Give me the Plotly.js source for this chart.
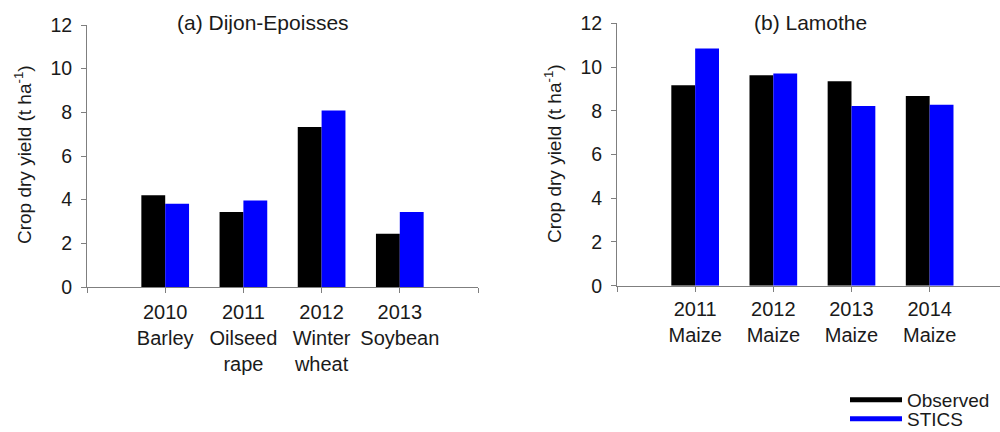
<!DOCTYPE html>
<html>
<head>
<meta charset="utf-8">
<script src="https://cdn.plot.ly/plotly-3.0.1.min.js"></script>
<style>html,body{margin:0;padding:0;background:#fff;}#chart{width:1000px;height:432px;}</style>
</head>
<body>
<div id="chart"></div>
<script>
// Panel (a) Dijon-Epoisses
const catsA = ["2010<br>Barley", "2011<br>Oilseed<br>rape", "2012<br>Winter<br>wheat", "2013<br>Soybean"];
const observedA = [4.2, 3.43, 7.33, 2.44];
const sticsA = [3.81, 3.96, 8.08, 3.43];

// Panel (b) Lamothe
const catsB = ["2011<br>Maize", "2012<br>Maize", "2013<br>Maize", "2014<br>Maize"];
const observedB = [9.17, 9.62, 9.35, 8.68];
const sticsB = [10.85, 9.7, 8.22, 8.28];

const seriesNames = ["Observed", "STICS"];
const seriesColors = ["#000000", "#0000ff"];

const titleA = "(a) Dijon-Epoisses";
const titleB = "(b) Lamothe";
const yTitle = "Crop dry yield (t ha<sup>-1</sup>)";

const FONT = "Liberation Sans, Arial, sans-serif";
const TXT = "#1a1a1a";
const AXC = "#7f7f7f";

const posA = catsA.map((c, i) => i + 1);
const posB = catsB.map((c, i) => i + 1);

const traces = [
  {type: "bar", x: posA, y: observedA, name: seriesNames[0], marker: {color: seriesColors[0]}, xaxis: "x", yaxis: "y", showlegend: false},
  {type: "bar", x: posA, y: sticsA, name: seriesNames[1], marker: {color: seriesColors[1]}, xaxis: "x", yaxis: "y", showlegend: false},
  {type: "bar", x: posB, y: observedB, name: seriesNames[0], marker: {color: seriesColors[0]}, xaxis: "x2", yaxis: "y2", showlegend: false},
  {type: "bar", x: posB, y: sticsB, name: seriesNames[1], marker: {color: seriesColors[1]}, xaxis: "x2", yaxis: "y2", showlegend: false},
  {type: "scatter", mode: "lines", x: [null], y: [null], name: seriesNames[0], line: {color: seriesColors[0], width: 5}, xaxis: "x2", yaxis: "y2", showlegend: true, legend: "legend"},
  {type: "scatter", mode: "lines", x: [null], y: [null], name: seriesNames[1], line: {color: seriesColors[1], width: 5}, xaxis: "x2", yaxis: "y2", showlegend: true, legend: "legend2"}
];

const xCommon = {
  range: [0, 5], tickmode: "array", tickvals: [1, 2, 3, 4],
  showline: true, linecolor: AXC, linewidth: 1, ticks: "outside", ticklen: 5, tickcolor: AXC,
  minor: {tickmode: "linear", tick0: 0, dtick: 1, ticks: "outside", ticklen: 5, tickcolor: AXC, showgrid: false},
  showgrid: false, zeroline: false, fixedrange: true, automargin: false,
  tickfont: {family: FONT, size: 20, color: TXT}
};
const yCommon = {
  range: [0, 12], tickmode: "linear", tick0: 0, dtick: 2,
  showline: true, linecolor: AXC, linewidth: 1, ticks: "outside", ticklen: 5, tickcolor: AXC,
  showgrid: false, zeroline: false, fixedrange: true, ticklabelstandoff: 5, automargin: false,
  tickfont: {family: FONT, size: 19.5, color: TXT}
};

const legendCommon = {xanchor: "left", yanchor: "middle", bgcolor: "rgba(0,0,0,0)", itemwidth: 52,
  xref: "container", yref: "container", font: {family: FONT, size: 19, color: TXT}};

const layout = {
  width: 1000, height: 432,
  margin: {l: 0, r: 0, t: 0, b: 0, autoexpand: false},
  paper_bgcolor: "#ffffff", plot_bgcolor: "#ffffff",
  barmode: "group", bargap: 0.39, bargroupgap: 0,
  font: {family: FONT, color: TXT},
  xaxis: Object.assign({}, xCommon, {domain: [0.087, 0.478], anchor: "y", ticktext: catsA, ticklabelstandoff: 2}),
  yaxis: Object.assign({}, yCommon, {domain: [1 - 287 / 432, 1 - 25 / 432], anchor: "x"}),
  xaxis2: Object.assign({}, xCommon, {domain: [0.617, 1], anchor: "y2", range: [0, 4.9], ticktext: catsB, ticklabelstandoff: 0}),
  yaxis2: Object.assign({}, yCommon, {domain: [1 - 285.7 / 432, 1 - 23.3 / 432], anchor: "x2"}),
  legend: Object.assign({}, legendCommon, {x: 0.845, y: 1 - 400 / 432}),
  legend2: Object.assign({}, legendCommon, {x: 0.845, y: 1 - 419 / 432}),
  annotations: [
    {text: titleA, xref: "paper", yref: "paper", x: 263 / 1000, y: 1 - 22 / 432, xanchor: "center", yanchor: "middle", showarrow: false, font: {family: FONT, size: 21, color: TXT}},
    {text: titleB, xref: "paper", yref: "paper", x: 810 / 1000, y: 1 - 22 / 432, xanchor: "center", yanchor: "middle", showarrow: false, font: {family: FONT, size: 21, color: TXT}},
    {text: yTitle, xref: "paper", yref: "paper", x: 23 / 1000, y: 1 - 155 / 432, xanchor: "center", yanchor: "middle", textangle: -90, showarrow: false, font: {family: FONT, size: 19, color: TXT}},
    {text: yTitle, xref: "paper", yref: "paper", x: 553 / 1000, y: 1 - 154 / 432, xanchor: "center", yanchor: "middle", textangle: -90, showarrow: false, font: {family: FONT, size: 19, color: TXT}}
  ]
};

Plotly.newPlot("chart", traces, layout, {staticPlot: true, displayModeBar: false});
</script>
</body>
</html>
